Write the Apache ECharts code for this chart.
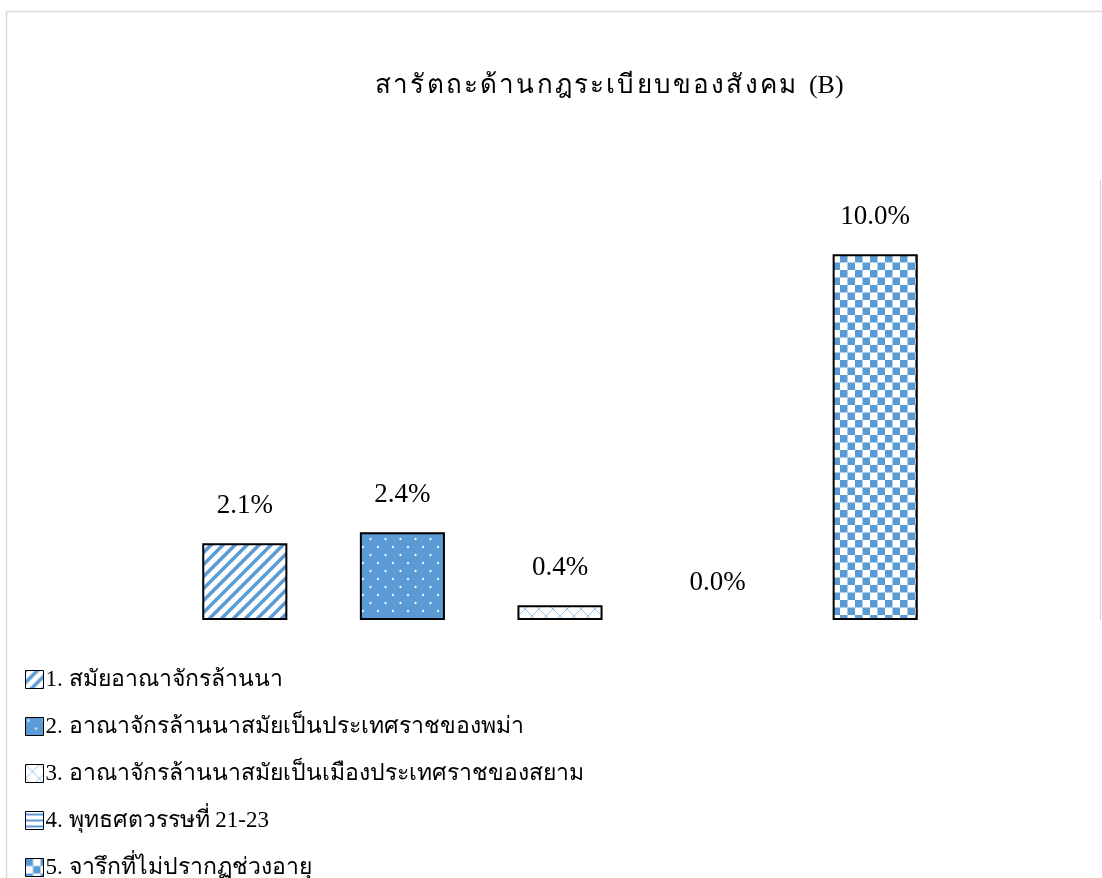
<!DOCTYPE html>
<html>
<head>
<meta charset="utf-8">
<script src="https://cdn.jsdelivr.net/npm/echarts@6/dist/echarts.min.js"></script>
<style>
html, body { margin: 0; padding: 0; background: #fff; }
#main { width: 1102px; height: 878px; }
</style>
</head>
<body>
<div id="main"></div>
<script>
var categories = [
	'1. สมัยอาณาจักรล้านนา',
	'2. อาณาจักรล้านนาสมัยเป็นประเทศราชของพม่า',
	'3. อาณาจักรล้านนาสมัยเป็นเมืองประเทศราชของสยาม',
	'4. พุทธศตวรรษที่ 21-23',
	'5. จารึกที่ไม่ปรากฏช่วงอายุ'
];
var values = [2.1, 2.4, 0.4, 0.0, 10.0];

var BLUE = '#5b9bd5';
var FONT = '"Liberation Serif", "Times New Roman", serif';
var HS = '\u200a'; // 字间距

// 填充图案
function makeTile(w, h, draw) {
	var c = document.createElement('canvas');
	c.width = w;
	c.height = h;
	var ctx = c.getContext('2d');
	ctx.fillStyle = '#fff';
	ctx.fillRect(0, 0, w, h);
	draw(ctx, w, h);
	return { image: c, repeat: 'repeat' };
}

var patterns = [
	// 斜线
	makeTile(12, 12, function(ctx, w, h) {
		ctx.strokeStyle = BLUE;
		ctx.lineWidth = 3.5;
		ctx.beginPath();
		ctx.moveTo(-2, h + 2); ctx.lineTo(w + 2, -2);
		ctx.moveTo(-2, 2); ctx.lineTo(2, -2);
		ctx.moveTo(w - 2, h + 2); ctx.lineTo(w + 2, h - 2);
		ctx.stroke();
	}),
	// 点
	makeTile(15, 16, function(ctx, w, h) {
		ctx.fillStyle = BLUE;
		ctx.fillRect(0, 0, w, h);
		ctx.fillStyle = '#e8f0fa';
		ctx.beginPath(); ctx.arc(3, 3, 1.2, 0, Math.PI * 2); ctx.fill();
		ctx.beginPath(); ctx.arc(10.5, 11, 1.2, 0, Math.PI * 2); ctx.fill();
	}),
	// 菱形网格
	makeTile(14, 14, function(ctx, w, h) {
		ctx.strokeStyle = '#9dc3e6';
		ctx.lineWidth = 1;
		ctx.beginPath();
		ctx.moveTo(0, 0); ctx.lineTo(w, h);
		ctx.moveTo(w, 0); ctx.lineTo(0, h);
		ctx.stroke();
	}),
	// 横线
	makeTile(6, 6, function(ctx, w, h) {
		ctx.fillStyle = BLUE;
		ctx.fillRect(0, 2, w, 2);
	}),
	// 棋盘格
	makeTile(15, 15, function(ctx, w, h) {
		ctx.fillStyle = BLUE;
		ctx.fillRect(0, 0, 7.5, 7.5);
		ctx.fillRect(7.5, 7.5, 7.5, 7.5);
	})
];

var series = categories.map(function(name, i) {
	var data = values.map(function(v, j) {
		if (j !== i) return '-';
		// 零值不画边框
		return v === 0 ? { value: v, itemStyle: { borderWidth: 0 } } : v;
	});
	return {
		name: name,
		type: 'bar',
		stack: 'all',
		barWidth: '54%',
		data: data,
		itemStyle: {
			color: patterns[i],
			borderColor: '#000',
			borderWidth: 2
		},
		label: {
			show: true,
			position: 'top',
			distance: 24,
			color: '#000',
			fontFamily: FONT,
			fontSize: 27,
			formatter: function(p) { return p.value.toFixed(1) + '%'; }
		}
	};
});

var title = 'สารัตถะด้านกฎระเบียบของสังคม';
var titleText = title.match(/.[\u0e31\u0e34-\u0e3a\u0e47-\u0e4e]*/g).join(HS) + '  (B)';

var chart = echarts.init(document.getElementById('main'));
chart.setOption({
	animation: false,
	backgroundColor: '#fff',
	title: {
		text: titleText,
		left: 370,
		top: 68,
		textStyle: {
			fontFamily: FONT,
			fontSize: 26,
			fontWeight: 'normal',
			color: '#000'
		}
	},
	grid: {
		left: 166,
		top: 181,
		width: 788,
		height: 439
	},
	xAxis: {
		type: 'category',
		data: categories,
		axisLine: { show: false },
		axisTick: { show: false },
		axisLabel: { show: false }
	},
	yAxis: {
		type: 'value',
		min: 0,
		max: 12,
		show: false,
		splitLine: { show: false }
	},
	legend: {
		orient: 'vertical',
		left: 20,
		top: 663,
		height: 230,
		itemGap: 24,
		itemWidth: 18,
		itemHeight: 18,
		icon: 'rect',
		itemStyle: { borderColor: '#000', borderWidth: 1 },
		textStyle: {
			fontFamily: FONT,
			fontSize: 23,
			color: '#000',
			padding: [0, 0, 0, -3]
		}
	},
	graphic: [
		{ type: 'line', shape: { x1: 6.5, y1: 11.5, x2: 1102, y2: 11.5 }, style: { stroke: '#d9d9d9', lineWidth: 1.5 } },
		{ type: 'line', shape: { x1: 6.5, y1: 11.5, x2: 6.5, y2: 878 }, style: { stroke: '#d9d9d9', lineWidth: 1.5 } },
		{ type: 'line', shape: { x1: 1100.5, y1: 180, x2: 1100.5, y2: 620 }, style: { stroke: '#d9d9d9', lineWidth: 1.5 } }
	],
	series: series
});
</script>
</body>
</html>
